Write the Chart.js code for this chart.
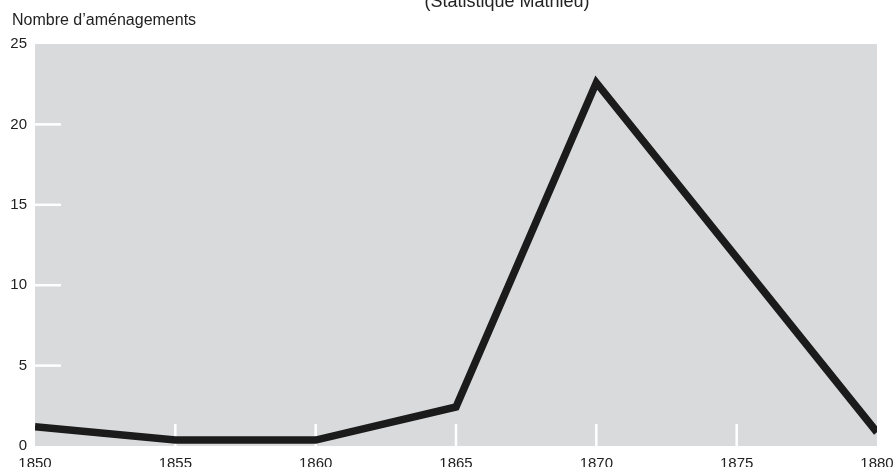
<!DOCTYPE html>
<html>
<head>
<meta charset="utf-8">
<script src="https://cdn.jsdelivr.net/npm/chart.js@4/dist/chart.umd.min.js"></script>
<style>
html,body{margin:0;padding:0;background:#ffffff;}
#wrap{width:894px;height:467px;position:relative;}
</style>
</head>
<body>
<div id="wrap"><canvas id="c" width="894" height="467"></canvas></div>
<script>
const years = [1850, 1855, 1860, 1865, 1870, 1880];
const amenagements = [1.2, 0.37, 0.37, 2.43, 22.6, 0.85];
const xTicks = [1850, 1855, 1860, 1865, 1870, 1875, 1880];
const yTicks = [0, 5, 10, 15, 20, 25];
const chartTitle = '(Statistique Mathieu)';
const yAxisTitle = 'Nombre d\u2019aménagements';

const FONT = '"Liberation Sans", Arial, Helvetica, sans-serif';

const decor = {
  id: 'decor',
  beforeDraw(chart) {
    const {ctx, chartArea: a, scales} = chart;
    ctx.save();
    ctx.fillStyle = '#d9dadc';
    ctx.fillRect(a.left, a.top, a.right - a.left, a.bottom - a.top);
    ctx.strokeStyle = '#ffffff';
    ctx.lineWidth = 2.5;
    yTicks.forEach(v => {
      if (v === 0 || v === 25) return;
      const y = scales.y.getPixelForValue(v);
      ctx.beginPath(); ctx.moveTo(a.left, y); ctx.lineTo(a.left + 26, y); ctx.stroke();
    });
    xTicks.forEach(v => {
      if (v === 1850 || v === 1880) return;
      const x = scales.x.getPixelForValue(v);
      ctx.beginPath(); ctx.moveTo(x, a.bottom); ctx.lineTo(x, a.bottom - 22); ctx.stroke();
    });
    ctx.fillStyle = '#222222';
    ctx.textBaseline = 'alphabetic';
    ctx.font = '16px ' + FONT;
    ctx.textAlign = 'left';
    ctx.fillText(yAxisTitle, 12, 25);
    ctx.font = '18px ' + FONT;
    ctx.textAlign = 'center';
    ctx.fillText(chartTitle, 507, 7);
    ctx.restore();
  }
};

new Chart(document.getElementById('c'), {
  type: 'line',
  data: {
    datasets: [{
      data: years.map((y, i) => ({x: y, y: amenagements[i]})),
      borderColor: '#1b1b1b',
      borderWidth: 7.5,
      pointRadius: 0,
      tension: 0,
      borderJoinStyle: 'miter',
      borderCapStyle: 'butt',
      fill: false
    }]
  },
  options: {
    responsive: false,
    animation: false,
    layout: {padding: {top: 44, right: 17, left: 0, bottom: 0}},
    plugins: {legend: {display: false}, tooltip: {enabled: false}, title: {display: false}},
    scales: {
      x: {
        type: 'linear', min: 1850, max: 1880,
        afterBuildTicks: s => { s.ticks = xTicks.map(v => ({value: v})); },
        afterFit: s => { s.height = 21; s.paddingLeft = 0; s.paddingRight = 0; },
        grid: {display: false, drawTicks: false},
        border: {display: false},
        ticks: {color: '#222', font: {family: FONT, size: 15}, padding: 9, maxRotation: 0, autoSkip: false,
                callback: v => String(v)}
      },
      y: {
        min: 0, max: 25,
        afterBuildTicks: s => { s.ticks = yTicks.map(v => ({value: v})); },
        afterFit: s => { s.width = 35; s.paddingTop = 0; s.paddingBottom = 0; },
        grid: {display: false, drawTicks: false},
        border: {display: false},
        ticks: {color: '#222', font: {family: FONT, size: 15}, padding: 8}
      }
    }
  },
  plugins: [decor]
});
</script>
</body>
</html>
